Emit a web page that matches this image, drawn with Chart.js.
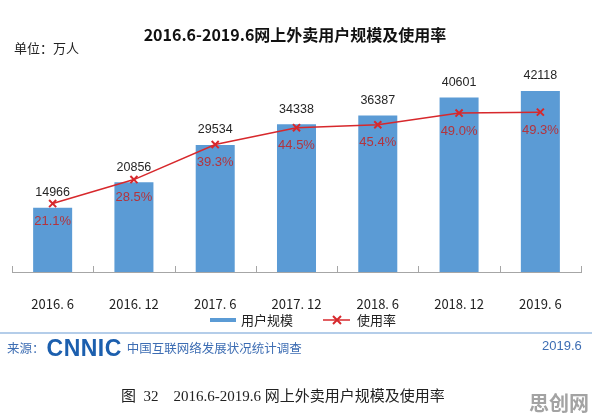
<!DOCTYPE html>
<html lang="zh">
<head>
<meta charset="UTF-8" />
<title>网上外卖用户规模及使用率</title>
<style>
  body { margin: 0; width: 596px; height: 420px; background: #fff; position: relative; overflow: hidden;
         font-family: "Noto Sans CJK SC", "Liberation Sans", sans-serif; }
  #grafik { position: absolute; left: 0; top: 0; }
  .txt { position: absolute; white-space: nowrap; }
  #baslik { left: 0; width: 590px; top: 22px; text-align: center; font-size: 16px; font-weight: bold; color: #111; }
  #birim { left: 14px; top: 38px; font-size: 13px; color: #222; }
  #ayrac { position: absolute; left: 0; top: 332px; width: 592px; height: 2px; background: #b4cde9; }
  #kaynak { left: 7px; top: 335px; font-size: 12.5px; color: #3d6db3; }
  #kaynak .logo { font-family: "Liberation Sans", sans-serif; font-weight: 900; font-size: 23px; color: #1c5fae;
                  letter-spacing: 0.5px; vertical-align: -3px; margin: 0 5px 0 2px; }
  #tarih { left: 542px; top: 338px; font-size: 13px; color: #3d6db3; font-family: "Liberation Sans", sans-serif; }
  #altyazi { left: 121px; top: 384px; font-size: 15px; color: #222; font-family: "Liberation Serif", "Noto Sans CJK SC", serif; }
  #damga { left: 529px; top: 388px; font-size: 20px; font-weight: bold; color: #a3a3a3; }
</style>
</head>
<body>
<canvas id="grafik" width="596" height="420"></canvas>
<div class="txt" id="baslik">2016.6-2019.6网上外卖用户规模及使用率</div>
<div class="txt" id="birim">单位：万人</div>
<div id="ayrac"></div>
<div class="txt" id="kaynak">来源：<span class="logo">CNNIC</span>中国互联网络发展状况统计调查</div>
<div class="txt" id="tarih">2019.6</div>
<div class="txt" id="altyazi">图&nbsp; 32&nbsp;&nbsp;&nbsp; 2016.6-2019.6 网上外卖用户规模及使用率</div>
<div class="txt" id="damga">思创网</div>

<script src="https://cdn.jsdelivr.net/npm/chart.js"></script>
<script>
  // Veriler
  const donemler = ['2016. 6', '2016. 12', '2017. 6', '2017. 12', '2018. 6', '2018. 12', '2019. 6'];
  const kullanici = [14966, 20856, 29534, 34338, 36387, 40601, 42118];
  const oran = [21.1, 28.5, 39.3, 44.5, 45.4, 49.0, 49.3];

  const maviRenk = '#5b9bd5';
  const kirmiziRenk = '#d7282c';

  // Etiketler, eksen çentikleri ve açıklama
  const etiketEklentisi = {
    id: 'etiketler',
    afterDatasetsDraw(chart) {
      const c = chart.ctx;
      const area = chart.chartArea;
      const x = chart.scales.x;
      c.save();

      // çentikler
      c.strokeStyle = '#a6a6a6';
      c.lineWidth = 1;
      const adim = x.getPixelForValue(1) - x.getPixelForValue(0);
      for (let i = 0; i <= donemler.length; i++) {
        const px = Math.round(x.getPixelForValue(i) - adim / 2) + 0.5;
        c.beginPath();
        c.moveTo(px, area.bottom);
        c.lineTo(px, area.bottom - 6);
        c.stroke();
      }

      // çubuk değerleri (dataset 1 = çubuklar)
      c.textAlign = 'center';
      c.textBaseline = 'middle';
      c.font = '12.5px "Liberation Sans", sans-serif';
      c.fillStyle = '#262626';
      chart.getDatasetMeta(1).data.forEach((bar, i) => {
        c.fillText(String(kullanici[i]), bar.x, bar.y - 15);
      });

      // oranlar (dataset 0 = çizgi)
      c.font = '13px "Liberation Sans", sans-serif';
      c.fillStyle = '#b3343d';
      chart.getDatasetMeta(0).data.forEach((p, i) => {
        c.fillText(oran[i].toFixed(1) + '%', p.x, p.y + 18);
      });

      // açıklama
      const ly = 320;
      c.fillStyle = maviRenk;
      c.fillRect(210, ly - 2, 26, 4);
      c.font = '13px "Noto Sans CJK SC", sans-serif';
      c.fillStyle = '#222';
      c.textAlign = 'left';
      c.fillText('用户规模', 241, ly);
      c.strokeStyle = kirmiziRenk;
      c.lineWidth = 1.5;
      c.beginPath();
      c.moveTo(323, ly);
      c.lineTo(350, ly);
      c.stroke();
      c.lineWidth = 2;
      c.beginPath();
      c.moveTo(333, ly - 4); c.lineTo(341, ly + 4);
      c.moveTo(341, ly - 4); c.lineTo(333, ly + 4);
      c.stroke();
      c.fillStyle = '#222';
      c.fillText('使用率', 357, ly);

      c.restore();
    }
  };

  const ctx = document.getElementById('grafik').getContext('2d');
  new Chart(ctx, {
    data: {
      labels: donemler,
      datasets: [
        {
          type: 'line',
          label: '使用率',
          data: oran,
          yAxisID: 'y1',
          borderColor: kirmiziRenk,
          borderWidth: 1.5,
          tension: 0,
          pointStyle: 'crossRot',
          pointRadius: 5,
          pointBorderWidth: 2,
          pointBorderColor: kirmiziRenk,
          order: 0
        },
        {
          type: 'bar',
          label: '用户规模',
          data: kullanici,
          yAxisID: 'y',
          backgroundColor: maviRenk,
          categoryPercentage: 1,
          barPercentage: 0.48,
          order: 1
        }
      ]
    },
    options: {
      responsive: false,
      animation: false,
      layout: { padding: { left: 12, right: 15, top: 57, bottom: 108 } },
      plugins: { legend: { display: false }, tooltip: { enabled: false } },
      scales: {
        x: {
          grid: { display: false },
          border: { display: true, color: '#a6a6a6', width: 1 },
          ticks: { padding: 16, color: '#222', font: { family: '"Noto Sans CJK SC", sans-serif', size: 13 } },
          afterFit(scale) { scale.height = 40; }
        },
        y: { display: false, min: 0, max: 50000 },
        y1: { display: false, position: 'right', min: 0, max: 66.3 }
      }
    },
    plugins: [etiketEklentisi]
  });
</script>
</body>
</html>
